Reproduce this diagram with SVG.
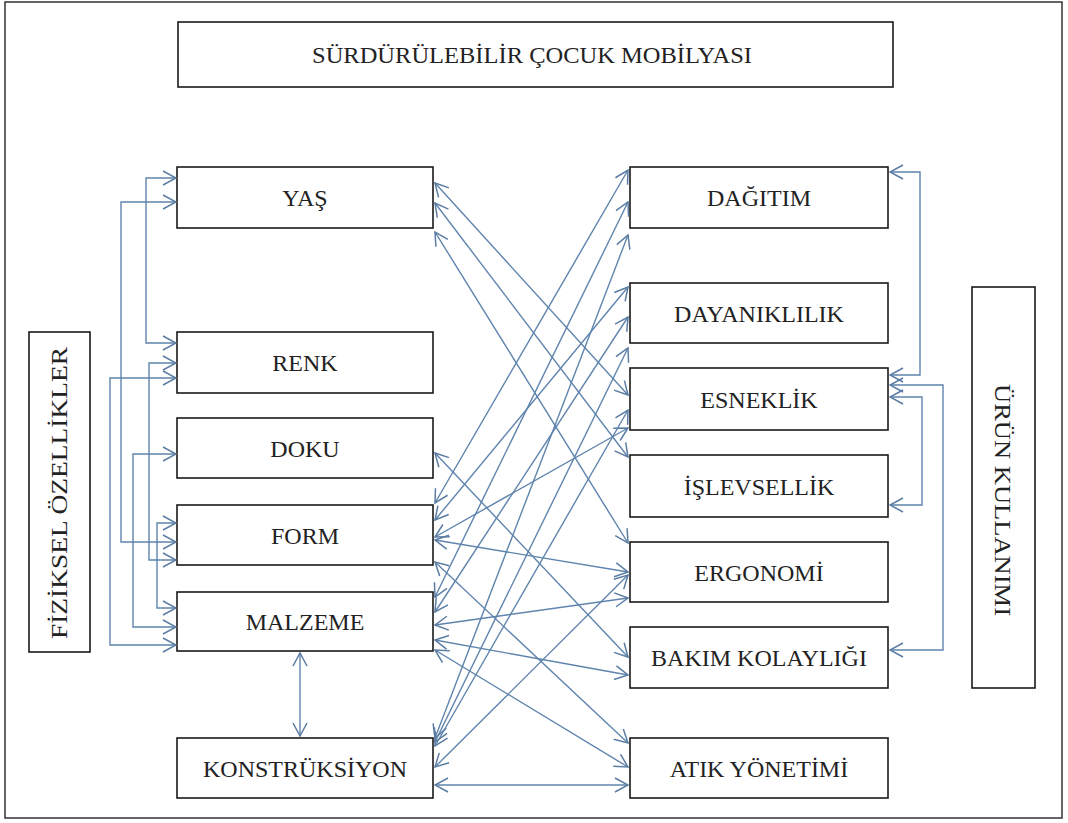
<svg xmlns="http://www.w3.org/2000/svg" width="1068" height="823" viewBox="0 0 1068 823">
<style>
.box{fill:#fff;stroke:#1a1a1a;stroke-width:1.6}
.t{font-family:"Liberation Serif","Times New Roman",serif;font-size:24px;fill:#222;text-anchor:middle}
.c{fill:none;stroke:#5f84ad;stroke-width:1.4}
</style>
<defs>
<marker id="a" viewBox="0 0 15 16" refX="14" refY="8" markerWidth="15" markerHeight="16" markerUnits="userSpaceOnUse" orient="auto-start-reverse">
<path d="M1,1 L14,8 L1,15" fill="none" stroke="#5b7ca3" stroke-width="1.5"/>
</marker>
</defs>
<rect x="0" y="0" width="1068" height="823" fill="#fff"/>
<rect x="5" y="2" width="1057" height="816" fill="none" stroke="#333" stroke-width="1.5"/>

<g id="title"><rect class="box" x="178" y="22" width="715" height="65" stroke-width="2"/><text class="t" x="532" y="63" textLength="440" lengthAdjust="spacingAndGlyphs">SÜRDÜRÜLEBİLİR ÇOCUK MOBİLYASI</text></g>

<g id="fiziksel"><rect class="box" x="29" y="332" width="61" height="320"/><text class="t" transform="translate(67,493) rotate(-90)" textLength="292" lengthAdjust="spacingAndGlyphs">FİZİKSEL ÖZELLİKLER</text></g>
<g id="urun"><rect class="box" x="972" y="287" width="63" height="401"/><text class="t" transform="translate(995,500) rotate(90)" textLength="232" lengthAdjust="spacingAndGlyphs">ÜRÜN KULLANIMI</text></g>

<g id="yas"><rect class="box" x="177" y="167" width="256" height="61"/><text class="t" x="305" y="206">YAŞ</text></g>
<g id="renk"><rect class="box" x="177" y="332" width="256" height="61"/><text class="t" x="305" y="371">RENK</text></g>
<g id="doku"><rect class="box" x="177" y="418" width="256" height="60"/><text class="t" x="305" y="457">DOKU</text></g>
<g id="form"><rect class="box" x="177" y="505" width="256" height="60"/><text class="t" x="305" y="544">FORM</text></g>
<g id="malzeme"><rect class="box" x="177" y="592" width="256" height="59"/><text class="t" x="305" y="630">MALZEME</text></g>
<g id="konstruksiyon"><rect class="box" x="177" y="738" width="256" height="60"/><text class="t" x="305" y="777">KONSTRÜKSİYON</text></g>

<g id="dagitim"><rect class="box" x="630" y="167" width="258" height="61"/><text class="t" x="759" y="206">DAĞITIM</text></g>
<g id="dayaniklilik"><rect class="box" x="630" y="283" width="258" height="60"/><text class="t" x="759" y="322">DAYANIKLILIK</text></g>
<g id="esneklik"><rect class="box" x="630" y="368" width="258" height="62"/><text class="t" x="759" y="408">ESNEKLİK</text></g>
<g id="islevsellik"><rect class="box" x="630" y="455" width="258" height="62"/><text class="t" x="759" y="495">İŞLEVSELLİK</text></g>
<g id="ergonomi"><rect class="box" x="630" y="542" width="258" height="60"/><text class="t" x="759" y="581">ERGONOMİ</text></g>
<g id="bakim"><rect class="box" x="630" y="627" width="258" height="61"/><text class="t" x="759" y="666">BAKIM KOLAYLIĞI</text></g>
<g id="atik"><rect class="box" x="630" y="738" width="258" height="60"/><text class="t" x="759" y="777">ATIK YÖNETİMİ</text></g>

<g id="connectors">
<polyline class="c" points="176,178 146,178 146,343 176,343" marker-start="url(#a)" marker-end="url(#a)"/>
<polyline class="c" points="176,202 121,202 121,542 176,542" marker-start="url(#a)" marker-end="url(#a)"/>
<polyline class="c" points="176,363 149,363 149,560 176,560" marker-start="url(#a)" marker-end="url(#a)"/>
<polyline class="c" points="176,378 110,378 110,645 176,645" marker-start="url(#a)" marker-end="url(#a)"/>
<polyline class="c" points="176,454 133,454 133,627 176,627" marker-start="url(#a)" marker-end="url(#a)"/>
<polyline class="c" points="176,523 157,523 157,608 176,608" marker-start="url(#a)" marker-end="url(#a)"/>
<polyline class="c" points="890,172 920,172 920,375 890,375" marker-start="url(#a)" marker-end="url(#a)"/>
<polyline class="c" points="890,385 943,385 943,650 890,650" marker-start="url(#a)" marker-end="url(#a)"/>
<polyline class="c" points="890,397 922,397 922,505 890,505" marker-start="url(#a)" marker-end="url(#a)"/>
<line class="c" x1="300" y1="653" x2="300" y2="736" marker-start="url(#a)" marker-end="url(#a)"/>
<line class="c" x1="435" y1="183" x2="628" y2="395" marker-start="url(#a)" marker-end="url(#a)"/>
<line class="c" x1="435" y1="203" x2="628" y2="457" marker-start="url(#a)" marker-end="url(#a)"/>
<line class="c" x1="435" y1="232" x2="628" y2="543" marker-start="url(#a)" marker-end="url(#a)"/>
<line class="c" x1="435" y1="453" x2="628" y2="657" marker-start="url(#a)" marker-end="url(#a)"/>
<line class="c" x1="435" y1="503" x2="628" y2="170" marker-start="url(#a)" marker-end="url(#a)"/>
<line class="c" x1="435" y1="520" x2="628" y2="287" marker-start="url(#a)" marker-end="url(#a)"/>
<line class="c" x1="435" y1="537" x2="628" y2="428" marker-start="url(#a)" marker-end="url(#a)"/>
<line class="c" x1="435" y1="540" x2="628" y2="572" marker-start="url(#a)" marker-end="url(#a)"/>
<line class="c" x1="435" y1="562" x2="628" y2="743" marker-start="url(#a)" marker-end="url(#a)"/>
<line class="c" x1="435" y1="597" x2="628" y2="202" marker-start="url(#a)" marker-end="url(#a)"/>
<line class="c" x1="435" y1="612" x2="628" y2="317" marker-start="url(#a)" marker-end="url(#a)"/>
<line class="c" x1="435" y1="625" x2="628" y2="598" marker-start="url(#a)" marker-end="url(#a)"/>
<line class="c" x1="435" y1="640" x2="628" y2="675" marker-start="url(#a)" marker-end="url(#a)"/>
<line class="c" x1="435" y1="650" x2="628" y2="767" marker-start="url(#a)" marker-end="url(#a)"/>
<line class="c" x1="435" y1="738" x2="628" y2="235" marker-start="url(#a)" marker-end="url(#a)"/>
<line class="c" x1="435" y1="742" x2="628" y2="348" marker-start="url(#a)" marker-end="url(#a)"/>
<line class="c" x1="435" y1="746" x2="628" y2="410" marker-start="url(#a)" marker-end="url(#a)"/>
<line class="c" x1="435" y1="767" x2="628" y2="575" marker-start="url(#a)" marker-end="url(#a)"/>
<line class="c" x1="435" y1="785" x2="628" y2="785" marker-start="url(#a)" marker-end="url(#a)"/>
</g>
</svg>
